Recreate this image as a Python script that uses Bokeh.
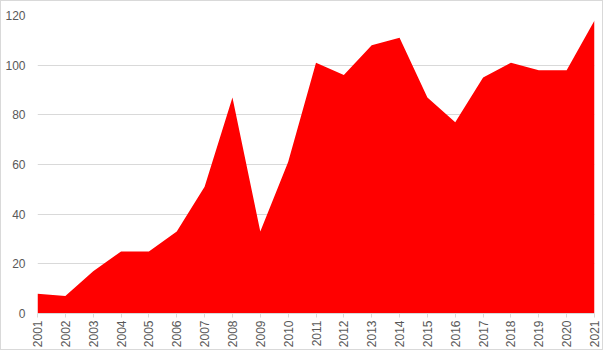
from bokeh.plotting import figure
from bokeh.embed import file_html
from bokeh.resources import INLINE
from bokeh.models import FixedTicker, Range1d
import math

years = list(range(2001, 2022))
values = [8, 7, 17, 25, 25, 33, 51, 87, 33, 61, 101, 96, 108, 111, 87, 77, 95, 101, 98, 98, 118]
y_ticks = [0, 20, 40, 60, 80, 100, 120]

p = figure(width=603, height=350, output_backend="svg", toolbar_location=None,
           x_range=Range1d(2001, 2021), y_range=Range1d(0, 120),
           min_border_left=36, min_border_top=14, min_border_right=10, min_border_bottom=38,
           styles={"border": "1px solid #d9d9d9"})

p.varea(x=years, y1=[0] * len(values), y2=values, fill_color="#ff0000", fill_alpha=1.0)

p.outline_line_color = None
p.xgrid.grid_line_color = None
p.ygrid.grid_line_color = "#d9d9d9"
p.ygrid.grid_line_width = 1

p.yaxis.ticker = FixedTicker(ticks=y_ticks)
p.yaxis.axis_line_color = None
p.yaxis.major_tick_line_color = None
p.yaxis.major_tick_in = 0
p.yaxis.major_tick_out = 0
p.yaxis.minor_tick_line_color = None
p.yaxis.major_label_text_font = "Liberation Sans"
p.yaxis.major_label_text_font_size = "12px"
p.yaxis.major_label_text_color = "#595959"
p.yaxis.major_label_standoff = 12

p.xaxis.ticker = FixedTicker(ticks=years)
p.xaxis.axis_line_color = "#d9d9d9"
p.xaxis.major_tick_line_color = "#d9d9d9"
p.xaxis.major_tick_in = 0
p.xaxis.major_tick_out = 4
p.xaxis.minor_tick_line_color = None
p.xaxis.major_label_orientation = math.pi / 2
p.xaxis.major_label_text_font = "Liberation Sans"
p.xaxis.major_label_text_font_size = "12px"
p.xaxis.major_label_text_color = "#595959"
p.xaxis.major_label_standoff = 3

open("out.html", "w").write(file_html(p, INLINE))
